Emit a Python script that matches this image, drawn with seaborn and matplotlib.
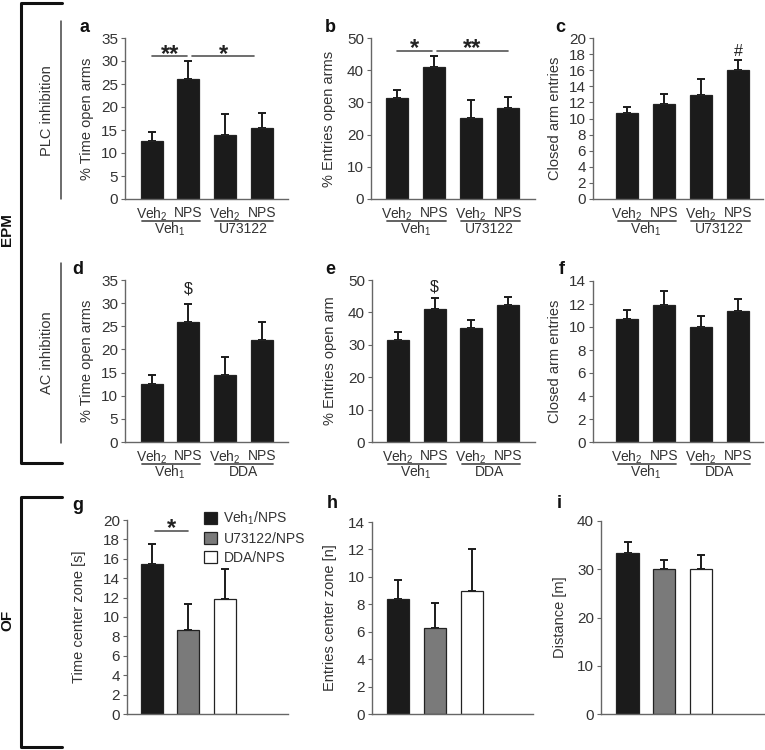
import numpy as np
import seaborn as sns
import matplotlib
matplotlib.use("Agg")
from matplotlib import pyplot as plt
from matplotlib.patches import Patch
from matplotlib.lines import Line2D
from matplotlib.transforms import ScaledTranslation

# ---- data ----
cond_plc = ["Veh1/Veh2", "Veh1/NPS", "U73122/Veh2", "U73122/NPS"]
cond_ac = ["Veh1/Veh2", "Veh1/NPS", "DDA/Veh2", "DDA/NPS"]
cond_of = ["Veh1/NPS", "U73122/NPS", "DDA/NPS"]
tick_labels = ["Veh$_2$", "NPS", "Veh$_2$", "NPS"]
groups_plc = ["Veh$_1$", "U73122"]
groups_ac = ["Veh$_1$", "DDA"]
legend_labels = ["Veh$_1$/NPS", "U73122/NPS", "DDA/NPS"]

time_open_plc = [12.6, 26.0, 14.0, 15.5]
time_open_plc_sem = [1.9, 4.0, 4.4, 3.3]
entries_open_plc = [31.4, 41.1, 25.3, 28.4]
entries_open_plc_sem = [2.5, 3.3, 5.5, 3.2]
closed_plc = [10.7, 11.8, 12.9, 16.0]
closed_plc_sem = [0.7, 1.3, 2.0, 1.3]

time_open_ac = [12.6, 26.0, 14.4, 22.0]
time_open_ac_sem = [1.9, 3.9, 3.9, 4.0]
entries_open_ac = [31.5, 41.0, 35.1, 42.3]
entries_open_ac_sem = [2.4, 3.3, 2.7, 2.3]
closed_ac = [10.7, 11.9, 10.0, 11.4]
closed_ac_sem = [0.75, 1.2, 0.95, 1.0]

time_center_of = [15.5, 8.7, 11.85]
time_center_of_sem = [2.0, 2.65, 3.1]
entries_center_of = [8.4, 6.3, 8.95]
entries_center_of_sem = [1.4, 1.8, 3.1]
distance_of = [33.3, 30.1, 30.1]
distance_of_sem = [2.3, 1.8, 2.8]

# significance marks: (x from, x to, height, text)
sig_a = [(0.02, 0.97, 31.0, "**"), (1.1, 2.8, 31.0, "*")]
sig_b = [(0.0, 0.95, 46.0, "*"), (1.08, 3.0, 46.0, "**")]
sig_g = [(0.08, 1.0, 18.9, "*")]
# single symbols above bars: (bar, height, text)
mark_c = [(3, 18.3, "#")]
mark_d = [(1, 33.0, "$")]
mark_e = [(1, 47.8, "$")]

BLACK = "#1b1b1b"
GRAY = "#7a7a7a"
WHITE = "#ffffff"
TXT = "#333333"
AXC = "#666666"

W, H = 765, 750

sns.set_style("ticks")
plt.rcParams["font.family"] = ["Liberation Sans", "DejaVu Sans"]
plt.rcParams["mathtext.fontset"] = "custom"
plt.rcParams["mathtext.rm"] = "Liberation Sans"
plt.rcParams["mathtext.it"] = "Liberation Sans:italic"
plt.rcParams["mathtext.bf"] = "Liberation Sans:bold"

fig = plt.figure(figsize=(W / 100, H / 100), dpi=100)


def px_box(x0, y0, x1, y1):
    return [x0 / W, 1 - y1 / H, (x1 - x0) / W, (y1 - y0) / H]


def panel(box, conds, means, sems, colors, ylim, ystep, ylabel, xlim, lpad=5):
    ax = fig.add_axes(px_box(*box))
    pal = dict(zip(conds, colors))
    sns.barplot(x=conds, y=means, hue=conds, palette=pal, order=conds,
                hue_order=conds, width=0.6, edgecolor="#222222",
                linewidth=0.9, legend=False, ax=ax, zorder=2)
    ax.errorbar(np.arange(len(means)), means,
                yerr=[np.zeros(len(sems)), sems], fmt="none",
                ecolor="#1b1b1b", elinewidth=1.4, capsize=3, capthick=1.4,
                zorder=1)
    ax.set_xlim(*xlim)
    ax.set_ylim(*ylim)
    ax.set_yticks(np.arange(ylim[0], ylim[1] + 0.01, ystep))
    ax.set_xlabel("")
    ax.set_ylabel(ylabel, fontsize=10.5, color=TXT, labelpad=lpad)
    sns.despine(ax=ax)
    for s in ("left", "bottom"):
        ax.spines[s].set_color(AXC)
        ax.spines[s].set_linewidth(1.0)
    ax.tick_params(axis="y", length=3, width=0.8, color=AXC,
                   labelsize=11, labelcolor=TXT, pad=2)
    ax.tick_params(axis="x", length=0, labelsize=10, labelcolor=TXT, pad=5)
    return ax


def groups(ax, names):
    ax.set_xticks(range(4))
    ax.set_xticklabels(tick_labels)
    tl = ax.get_xaxis_transform() + ScaledTranslation(0, -0.215, fig.dpi_scale_trans)
    tt = ax.get_xaxis_transform() + ScaledTranslation(0, -0.30, fig.dpi_scale_trans)
    for j, name in enumerate(names):
        ax.plot([2 * j - 0.26, 2 * j + 1.32], [0, 0], color="#555555",
                lw=1.3, transform=tl, clip_on=False)
        ax.text(2 * j + 0.5, 0, name, transform=tt, ha="center", va="center",
                fontsize=10, color=TXT)


def sig(ax, marks):
    for x0, x1, y, t in marks:
        ax.plot([x0, x1], [y, y], color="#555555", lw=1.2, clip_on=False)
        ax.annotate(t, ((x0 + x1) / 2, y), xytext=(0, -3),
                    textcoords="offset points", ha="center", va="baseline",
                    fontsize=17, fontweight="bold", color="#222222")


def marks(ax, items):
    for i, y, t in items:
        ax.text(i, y, t, ha="center", va="center", fontsize=11.5, color="#222222")


blk4 = [BLACK] * 4
ax_a = panel((125, 38, 288, 199), cond_plc, time_open_plc, time_open_plc_sem,
             blk4, (0, 35), 5, "% Time open arms", (-0.73, 3.72))
groups(ax_a, groups_plc)
sig(ax_a, sig_a)
ax_b = panel((371, 38, 535, 199), cond_plc, entries_open_plc, entries_open_plc_sem,
             blk4, (0, 50), 10, "% Entries open arms", (-0.7, 3.73), lpad=8)
groups(ax_b, groups_plc)
sig(ax_b, sig_b)
ax_c = panel((593, 38, 763, 199), cond_plc, closed_plc, closed_plc_sem,
             blk4, (0, 20), 2, "Closed arm entries", (-0.93, 3.68))
groups(ax_c, groups_plc)
marks(ax_c, mark_c)

ax_d = panel((125, 280, 288, 442), cond_ac, time_open_ac, time_open_ac_sem,
             blk4, (0, 35), 5, "% Time open arms", (-0.73, 3.72))
groups(ax_d, groups_ac)
marks(ax_d, mark_d)
ax_e = panel((372, 280, 535, 442), cond_ac, entries_open_ac, entries_open_ac_sem,
             blk4, (0, 50), 10, "% Entries open arm", (-0.7, 3.73), lpad=8)
groups(ax_e, groups_ac)
marks(ax_e, mark_e)
ax_f = panel((593, 281, 763, 442), cond_ac, closed_ac, closed_ac_sem,
             blk4, (0, 14), 2, "Closed arm entries", (-0.93, 3.68))
groups(ax_f, groups_ac)

of_colors = [BLACK, GRAY, WHITE]
ax_g = panel((127, 520, 288, 714), cond_of, time_center_of, time_center_of_sem,
             of_colors, (0, 20), 2, "Time center zone [s]", (-0.68, 3.72), lpad=12)
sig(ax_g, sig_g)
ax_h = panel((372, 522, 533, 714), cond_of, entries_center_of, entries_center_of_sem,
             of_colors, (0, 14), 2, "Entries center zone [n]", (-0.7, 3.65), lpad=8)
ax_i = panel((601, 521, 765, 714), cond_of, distance_of, distance_of_sem,
             of_colors, (0, 40), 10, "Distance [m]", (-0.72, 3.73), lpad=7)
for ax in (ax_g, ax_h, ax_i):
    ax.set_xticks([])

handles = [Patch(facecolor=c, edgecolor="#222222", lw=0.9) for c in of_colors]
ax_g.legend(handles, legend_labels, loc="upper left",
            bbox_to_anchor=(204 / W, 1 - 510 / H), bbox_transform=fig.transFigure,
            frameon=False, fontsize=10, handlelength=0.95, handleheight=0.95,
            handletextpad=0.45, labelspacing=0.35, borderpad=0, borderaxespad=0,
            labelcolor=TXT)

# panel letters
letters = {"a": (80, 28), "b": (325, 28), "c": (555, 28),
           "d": (72, 270), "e": (325, 270), "f": (559, 269),
           "g": (72, 506), "h": (327, 504), "i": (557, 504)}
for k, (x, y) in letters.items():
    fig.text(x / W, 1 - y / H, k, fontsize=13, fontweight="bold",
             ha="left", va="center", color="#111111")


def fline(xs, ys, **kw):
    fig.add_artist(Line2D([x / W for x in xs], [1 - y / H for y in ys],
                          transform=fig.transFigure, **kw))


# EPM / OF brackets
fline([62, 21, 21, 62], [3, 3, 463, 463], color="#111111", lw=2.2)
fline([62, 21, 21, 62], [497, 497, 747, 747], color="#111111", lw=2.2)
fline([61, 61], [21, 199], color="#444444", lw=1.1)
fline([61, 61], [263, 443], color="#444444", lw=1.1)
fig.text(7 / W, 1 - 230 / H, "EPM", rotation=90, ha="center", va="center",
         fontsize=11, fontweight="bold", color="#111111")
fig.text(7 / W, 1 - 620 / H, "OF", rotation=90, ha="center", va="center",
         fontsize=11, fontweight="bold", color="#111111")
fig.text(47 / W, 1 - 111 / H, "PLC inhibition", rotation=90, ha="center",
         va="center", fontsize=10.5, color=TXT)
fig.text(47 / W, 1 - 353 / H, "AC inhibition", rotation=90, ha="center",
         va="center", fontsize=10.5, color=TXT)

fig.savefig("out.png", dpi=100)
